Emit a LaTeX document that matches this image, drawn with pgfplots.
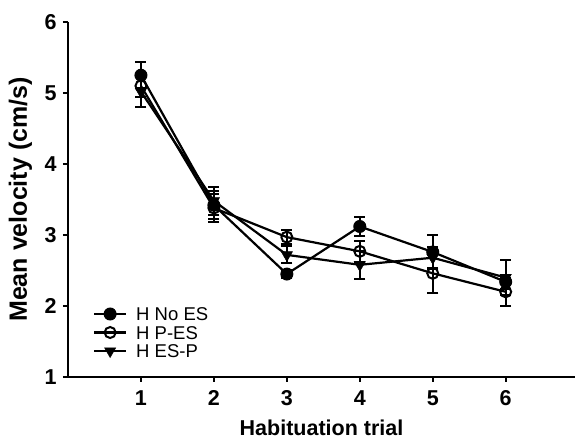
\documentclass[border=0pt]{standalone}
\usepackage{pgfplots}
\pgfplotsset{compat=1.18}
\usepackage{fontspec}
\setmainfont{Liberation Sans}
\begin{document}
\begin{tikzpicture}
\begin{axis}[
  name=ax,
  scale only axis,
  width=507pt, height=355pt,
  xmin=0, xmax=6.95, ymin=1, ymax=6,
  axis lines=left,
  axis line style={line width=2pt, -},
  xtick={1,2,3,4,5,6}, ytick={1,2,3,4,5,6},
  tick style={line width=2pt, black},
  tick align=outside,
  major tick length=5pt,
  /pgf/number format/assume math mode=true,
  ticklabel style={font=\fontsize{21.5}{23}\selectfont\bfseries},
  yticklabel style={xshift=-3pt},
  xticklabel style={yshift=-5pt},
  xlabel={Habituation trial}, ylabel={Mean velocity (cm/s)},
  xlabel style={font=\fontsize{21.5}{23}\selectfont\bfseries, at={(axis description cs:0.5,-0.142)}, anchor=center},
  ylabel style={font=\fontsize{25}{27}\selectfont\bfseries, at={(axis description cs:-0.094,0.5)}, anchor=center},
  error bars/error bar style={line width=2pt, black},
  error bars/error mark options={rotate=90, mark size=5.5pt, line width=2pt, black},
  legend style={draw=none, fill=none, at={(0.049,0.197)}, anchor=north west,
    font=\fontsize{18.5}{20}\selectfont, row sep=5pt, inner sep=0pt,
    nodes={inner sep=0pt, text height=13.5pt, text depth=0pt},
    /tikz/every odd column/.style={column sep=9pt}},
  legend cell align=left,
  legend image code/.code={\draw[mark repeat=2,mark phase=2] plot coordinates {(0pt,0pt)(16pt,0pt)(32pt,0pt)};},
]
\addplot[black, line width=2.2pt, mark=*, mark size=6pt, mark options={fill=black, solid, line width=1pt},
  error bars/.cd, y dir=both, y explicit]
  coordinates {(1,5.25) +- (0,0.18) (2,3.42) +- (0,0.2) (3,2.45) +- (0,0.05) (4,3.12) +- (0,0.14) (5,2.76) +- (0,0.24) (6,2.34) +- (0,0.1)};
\addlegendentry{H No ES}
\addplot[black, line width=2.2pt, mark=o, mark size=5.5pt, mark options={fill=white, solid, line width=2pt},
  error bars/.cd, y dir=both, y explicit]
  coordinates {(1,5.10) +- (0,0.15) (2,3.38) +- (0,0.2) (3,2.97) +- (0,0.1) (4,2.77) +- (0,0.15) (5,2.46) +- (0,0.28) (6,2.20) +- (0,0.2)};
\addlegendentry{H P-ES}
\addplot[black, line width=2.2pt, mark=triangle*, mark size=6.5pt, mark options={fill=black, solid, rotate=180, line width=0.5pt},
  error bars/.cd, y dir=both, y explicit]
  coordinates {(1,5.02) +- (0,0.22) (2,3.48) +- (0,0.2) (3,2.72) +- (0,0.12) (4,2.58) +- (0,0.2) (5,2.68) +- (0,0.15) (6,2.40) +- (0,0.25)};
\addlegendentry{H ES-P}
\end{axis}
\pgfresetboundingbox
\useasboundingbox ([xshift=-68pt,yshift=-63pt]ax.south west) rectangle ([yshift=22pt]ax.north east);
\end{tikzpicture}
\end{document}
